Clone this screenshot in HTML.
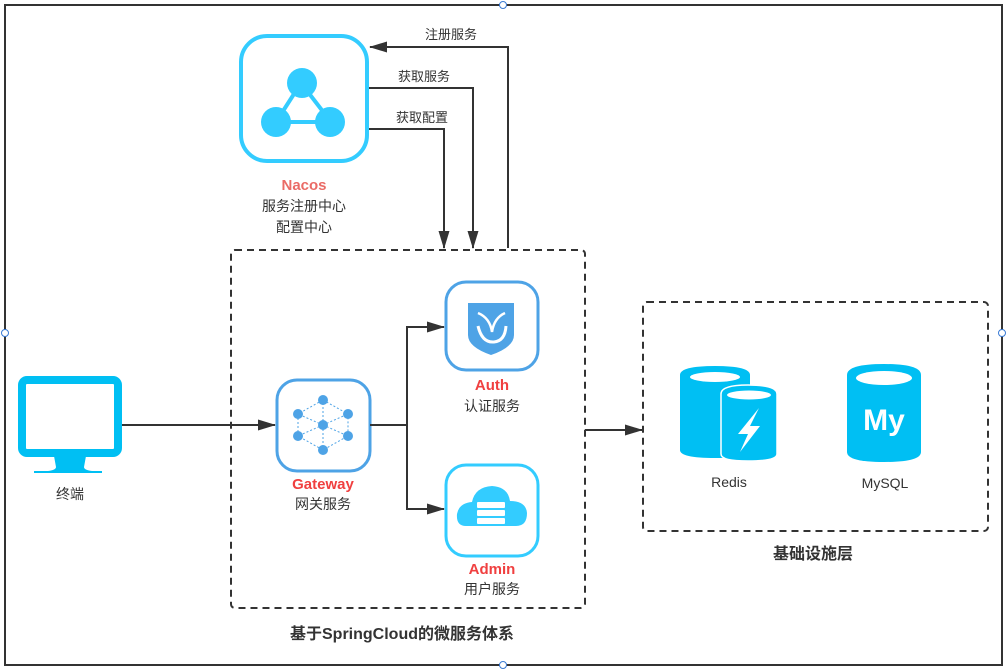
<!DOCTYPE html>
<html><head><meta charset="utf-8"><style>
html,body{margin:0;padding:0;background:#fff;}
svg{display:block;font-family:"Liberation Sans","Noto Sans CJK SC",sans-serif;}
</style></head><body>
<svg width="1008" height="670" viewBox="0 0 1008 670" xmlns="http://www.w3.org/2000/svg">
<defs>
<marker id="ar2" markerWidth="18" markerHeight="11" refX="17" refY="5.5" orient="auto" markerUnits="userSpaceOnUse">
<path d="M0,0 L18,5.5 L0,11 Z" fill="#333"/></marker>
</defs>
<rect x="0" y="0" width="1008" height="670" fill="#fff"/>
<rect x="5" y="5" width="997" height="660" fill="none" stroke="#333" stroke-width="2"/>
<g fill="#fff" stroke="#3a7bd5" stroke-width="1">
<circle cx="503" cy="5" r="3.5"/><circle cx="503" cy="665" r="3.5"/><circle cx="5" cy="333" r="3.5"/><circle cx="1002" cy="333" r="3.5"/></g>

<!-- Nacos -->
<rect x="241" y="36" width="126" height="125" rx="26" fill="#fff" stroke="#33CCFF" stroke-width="4"/>
<g stroke="#33CCFF" stroke-width="4"><line x1="301" y1="83" x2="276" y2="122"/><line x1="301" y1="83" x2="331" y2="122"/><line x1="276" y1="122" x2="331" y2="122"/></g>
<g fill="#33CCFF"><circle cx="302" cy="83" r="15"/><circle cx="276" cy="122" r="15"/><circle cx="330" cy="122" r="15"/></g>
<text x="304" y="190" font-size="15" font-weight="bold" fill="#EA6B66" text-anchor="middle">Nacos</text>
<text x="304" y="211" font-size="14" fill="#333" text-anchor="middle">服务注册中心</text>
<text x="304" y="232" font-size="14" fill="#333" text-anchor="middle">配置中心</text>

<g fill="none" stroke="#333" stroke-width="2">
<polyline points="508,248 508,47 370,47" marker-end="url(#ar2)"/>
<polyline points="369,88 473,88 473,248" marker-end="url(#ar2)"/>
<polyline points="369,129 444,129 444,248" marker-end="url(#ar2)"/>
</g>
<g font-size="13" fill="#333" text-anchor="middle">
<text x="451" y="39">注册服务</text><text x="424" y="81">获取服务</text><text x="422" y="122">获取配置</text></g>

<!-- main dashed box -->
<rect x="231" y="250" width="354" height="358" rx="4" fill="none" stroke="#333" stroke-width="2" stroke-dasharray="7,5"/>
<text x="402" y="639" font-size="16" font-weight="bold" fill="#333" text-anchor="middle">基于SpringCloud的微服务体系</text>

<!-- Gateway -->
<rect x="277" y="380" width="93" height="91" rx="20" fill="#fff" stroke="#4EA3E6" stroke-width="3"/>
<g stroke="#4EA3E6" stroke-width="1" stroke-dasharray="2,2" fill="none">
<polygon points="323,400 348,414 348,436 323,450 298,436 298,414"/>
<line x1="323" y1="425" x2="323" y2="400"/><line x1="323" y1="425" x2="348" y2="414"/><line x1="323" y1="425" x2="298" y2="414"/>
<line x1="323" y1="425" x2="348" y2="436"/><line x1="323" y1="425" x2="298" y2="436"/><line x1="323" y1="425" x2="323" y2="450"/></g>
<g fill="#4EA3E6"><circle cx="323" cy="400" r="5"/><circle cx="348" cy="414" r="5"/><circle cx="348" cy="436" r="5"/><circle cx="323" cy="450" r="5"/><circle cx="298" cy="436" r="5"/><circle cx="298" cy="414" r="5"/><circle cx="323" cy="425" r="5"/></g>
<text x="323" y="489" font-size="15" font-weight="bold" fill="#F04040" text-anchor="middle">Gateway</text>
<text x="323" y="509" font-size="14" fill="#333" text-anchor="middle">网关服务</text>

<!-- Auth -->
<rect x="446" y="282" width="92" height="88" rx="20" fill="#fff" stroke="#4EA3E6" stroke-width="3"/>
<path d="M468,303 L514,303 L514,335 Q514,347 491,355 Q468,347 468,335 Z" fill="#4EA3E6"/>
<path d="M478,326 Q482,343 494,342 Q505,341 506,326" fill="none" stroke="#fff" stroke-width="3"/>
<path d="M478,313 Q490,318 492,332 M505,313 Q494,318 492,332" fill="none" stroke="#fff" stroke-width="2.5"/>
<text x="492" y="390" font-size="15" font-weight="bold" fill="#F04040" text-anchor="middle">Auth</text>
<text x="492" y="411" font-size="14" fill="#333" text-anchor="middle">认证服务</text>

<!-- Admin -->
<rect x="446" y="465" width="92" height="91" rx="20" fill="#fff" stroke="#33CCFF" stroke-width="3"/>
<path d="M466,526 Q456,526 457,514 Q459,503 472,502 Q475,487 492,486 Q508,487 510,501 Q526,501 527,513 Q527,526 516,526 Z" fill="#33CCFF"/>
<g fill="#fff"><rect x="477" y="502" width="28" height="6" rx="1"/><rect x="477" y="510" width="28" height="6" rx="1"/><rect x="477" y="518" width="28" height="6" rx="1"/></g>
<text x="492" y="574" font-size="15" font-weight="bold" fill="#F04040" text-anchor="middle">Admin</text>
<text x="492" y="594" font-size="14" fill="#333" text-anchor="middle">用户服务</text>

<g fill="none" stroke="#333" stroke-width="2">
<polyline points="370,425 407,425 407,327 444,327" marker-end="url(#ar2)"/>
<polyline points="407,425 407,509 444,509" marker-end="url(#ar2)"/>
<line x1="122" y1="425" x2="275" y2="425" marker-end="url(#ar2)"/>
<line x1="585" y1="430" x2="642" y2="430" marker-end="url(#ar2)"/>
</g>

<!-- terminal -->
<rect x="22" y="380" width="96" height="73" rx="5" fill="none" stroke="#00BFF3" stroke-width="8"/>
<path d="M54,456 L86,456 L84,467 Q84,470 92,471 L102,471 L102,473 L34,473 L34,471 L48,471 Q56,470 56,467 Z" fill="#00BFF3"/>
<text x="70" y="499" font-size="14" fill="#333" text-anchor="middle">终端</text>

<!-- infra -->
<rect x="643" y="302" width="345" height="229" rx="4" fill="none" stroke="#333" stroke-width="2" stroke-dasharray="7,5"/>
<text x="813" y="559" font-size="16" font-weight="bold" fill="#333" text-anchor="middle">基础设施层</text>
<!-- Redis -->
<path d="M680,375 Q680,366 715,366 Q750,366 750,375 L750,450 Q750,458 715,458 Q680,458 680,450 Z" fill="#00BFF3"/>
<ellipse cx="715" cy="377" rx="25" ry="5" fill="#fff"/>
<path d="M721,394 Q721,385 748,385 Q777,385 777,394 L777,454 Q777,461 748,461 Q721,461 721,454 Z" fill="#00BFF3" stroke="#fff" stroke-width="1.5"/>
<ellipse cx="749" cy="395" rx="22" ry="4.5" fill="#fff"/>
<path d="M759,408 L738,434 L748,434 L740,452 L760,426 L750,426 Z" fill="#fff"/>
<text x="729" y="487" font-size="14" fill="#333" text-anchor="middle">Redis</text>
<!-- MySQL -->
<path d="M847,375 Q847,364 884,364 Q921,364 921,375 L921,452 Q921,462 884,462 Q847,462 847,452 Z" fill="#00BFF3"/>
<ellipse cx="884" cy="378" rx="28" ry="7" fill="#fff"/>
<text x="884" y="430" font-size="30" font-weight="bold" fill="#fff" text-anchor="middle" font-family="Liberation Sans,sans-serif">My</text>
<text x="885" y="488" font-size="14" fill="#333" text-anchor="middle">MySQL</text>
</svg>
</body></html>
